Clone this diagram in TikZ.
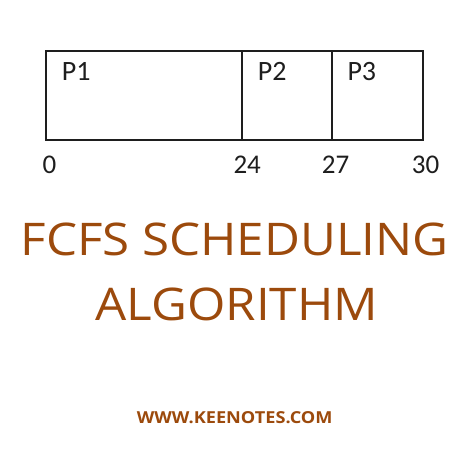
\documentclass[tikz,border=0pt]{standalone}
\usepackage{fontspec}
\setmainfont{Carlito}
\newfontfamily\titlefont[FakeStretch=1.095]{Open Sans}
\newfontfamily\urlfont[FakeStretch=1.1]{Open Sans}
\definecolor{brownt}{HTML}{9C4A0C}
\definecolor{chartink}{HTML}{1E1E1E}
\begin{document}
\begin{tikzpicture}[x=1pt,y=-1pt,
  cell/.style={draw=chartink,line width=1.8pt},
  plabel/.style={anchor=base west,inner sep=0,text=chartink,font=\fontsize{28}{28}\selectfont},
  tlabel/.style={anchor=base west,inner sep=0,text=chartink,font=\fontsize{27}{27}\selectfont},
  title/.style={anchor=base,inner sep=0,text=brownt,font=\titlefont\fontsize{45}{45}\selectfont},
  url/.style={anchor=base,inner sep=0,text=brownt,font=\urlfont\bfseries\fontsize{16.5}{16.5}\selectfont}]
\useasboundingbox (0,0) rectangle (474,474);
\fill[white] (0,0) rectangle (474,474);
\coordinate (c0t) at (45.7,50.7);
\coordinate (c1t) at (242.3,50.7);
\coordinate (c2t) at (332.3,50.7);
\coordinate (c3b) at (423.3,140);
\draw[cell] (c0t) rectangle (c3b);
\draw[cell] (c1t) -- (c1t |- c3b);
\draw[cell] (c2t) -- (c2t |- c3b);
\node[plabel] (p1) at (61.7,80.7) {P1};
\node[plabel] (p2) at (257.7,80.7) {P2};
\node[plabel] (p3) at (347.3,80.7) {P3};
\node[tlabel] (t0) at (42.5,173.3) {0};
\node[tlabel] (t24) at (233.3,173.3) {24};
\node[tlabel] (t27) at (321.7,173.3) {27};
\node[tlabel] (t30) at (411.7,173.3) {30};
\node[title] (title1) at (234.5,255) {FCFS SCHEDULING};
\node[title] (title2) at (236.7,320.7) {ALGORITHM};
\node[url] (url) at (234.7,423.3) {WWW.KEENOTES.COM};
\end{tikzpicture}
\end{document}
